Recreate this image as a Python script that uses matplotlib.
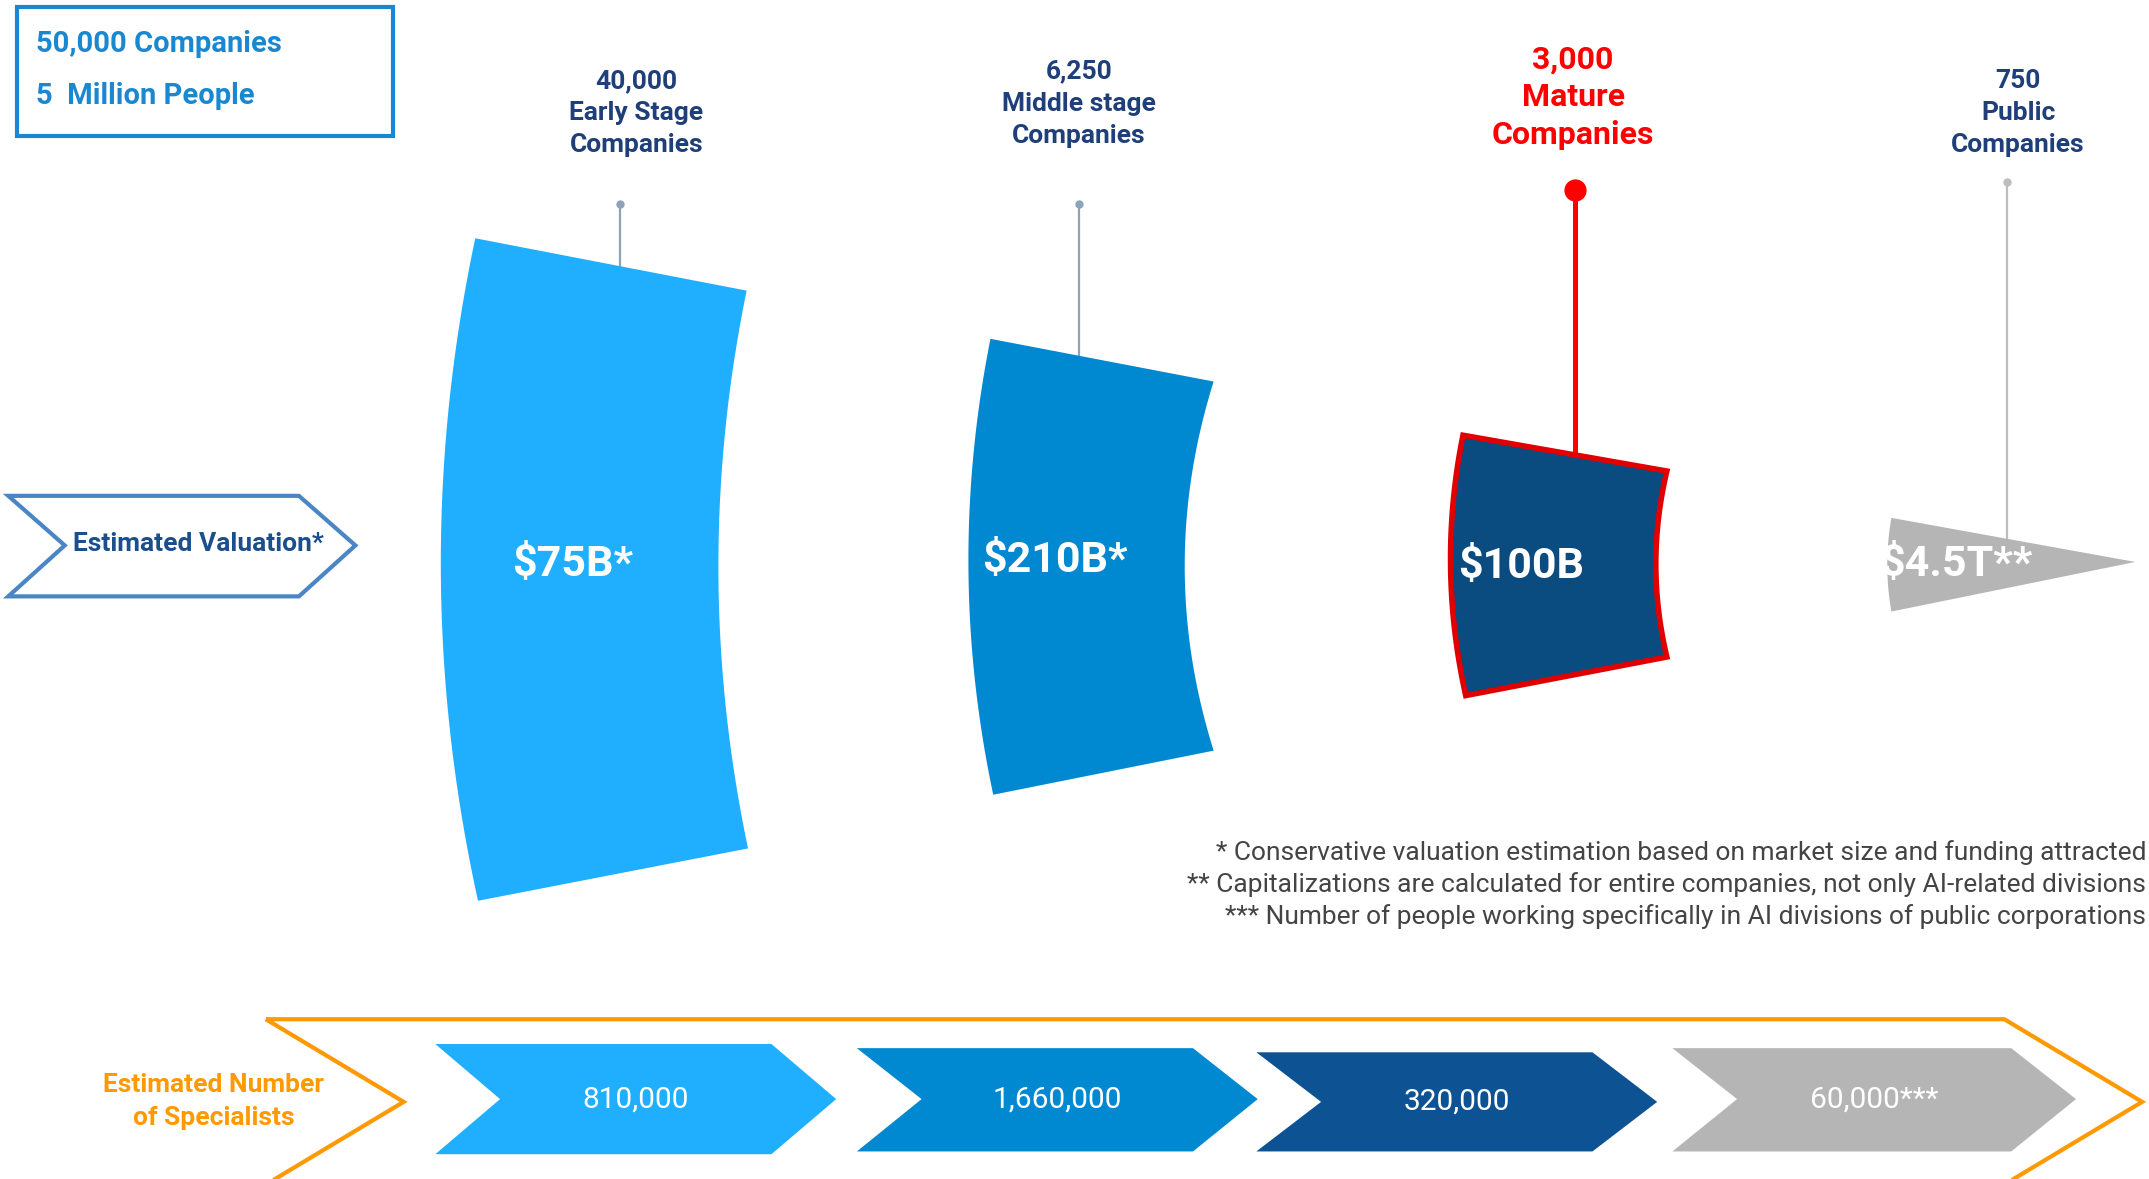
import numpy as np
import matplotlib
matplotlib.use("Agg")
import matplotlib.pyplot as plt
from matplotlib.patches import Polygon, Rectangle

plt.rcParams['font.family'] = ['Roboto', 'DejaVu Sans']

# ---------------- data ----------------
stage_counts = ["40,000", "6,250", "3,000", "750"]
stage_names = ["Early Stage\nCompanies", "Middle stage\nCompanies", "Mature\nCompanies", "Public\nCompanies"]
valuations = ["$75B*", "$210B*", "$100B", "$4.5T**"]
specialists = ["810,000", "1,660,000", "320,000", "60,000***"]
summary_lines = ["50,000 Companies", "5  Million People"]
footnotes = [
    "* Conservative valuation estimation based on market size and funding attracted",
    "** Capitalizations are calculated for entire companies, not only AI-related divisions",
    "*** Number of people working specifically in AI divisions of public corporations",
]

# ---------------- style / layout ----------------
shape_colors = ["#20AFFF", "#0088D1", "#0A4B80", "#B5B5B5"]
chev_colors = ["#20AFFF", "#0088D1", "#0D5393", "#B5B5B5"]
title_colors = ["#1F3F7A", "#1F3F7A", "#FF0000", "#1F3F7A"]
ORANGE = "#FF9900"
BOXBLUE = "#1A88D0"

W, H = 1560, 856
fig = plt.figure(figsize=(21.49, 11.79), dpi=100)
ax = fig.add_axes([0, 0, 1, 1])
ax.set_xlim(0, W)
ax.set_ylim(H, 0)
ax.axis('off')


def curved_shape(tl, tr, br, bl, bulge_l, bulge_r, n=60):
    t = np.linspace(0, 1, n)
    rx = tr[0] + (br[0] - tr[0]) * t - bulge_r * 4 * t * (1 - t)
    ry = tr[1] + (br[1] - tr[1]) * t
    lx = bl[0] + (tl[0] - bl[0]) * t - bulge_l * 4 * t * (1 - t)
    ly = bl[1] + (tl[1] - bl[1]) * t
    return np.column_stack([np.concatenate([rx, lx]), np.concatenate([ry, ly])])


geoms = [
    dict(tl=(345, 173), tr=(542, 211), br=(543, 616), bl=(347, 654), bl_=26, br_=21),
    dict(tl=(719, 246), tr=(881, 277), br=(881, 545), bl=(721, 577), bl_=17, br_=21),
    dict(tl=(1062, 316), tr=(1210, 342), br=(1210, 477), bl=(1064, 505), bl_=10, br_=8),
]
label_pos = [(416, 410), (766, 407), (1104, 411), (1420, 410)]
stems = [(450, 148, 193), (783, 148, 258), (1143, 138, 329), (1457, 132, 392)]
title_pos = [(462, 59), (783, 52), (1142, 43), (1465, 59)]

for i, g in enumerate(geoms):
    pts = curved_shape(g['tl'], g['tr'], g['br'], g['bl'], g['bl_'], g['br_'])
    if i == 2:
        ax.add_patch(Polygon(pts, closed=True, facecolor=shape_colors[i],
                             edgecolor="#E00000", lw=4, joinstyle='miter', zorder=3))
    else:
        ax.add_patch(Polygon(pts, closed=True, facecolor=shape_colors[i],
                             edgecolor='none', zorder=3))

# public: wedge
t = np.linspace(0, 1, 30)
lx = 1373 - 3 * 4 * t * (1 - t)
ly = 444 + (376 - 444) * t
tri = np.column_stack([np.concatenate([[1550], lx]), np.concatenate([[408], ly])])
ax.add_patch(Polygon(tri, closed=True, facecolor=shape_colors[3], edgecolor='none', zorder=3))

# stems
for i, (sx, y0, y1) in enumerate(stems):
    if i == 2:
        ax.plot([sx, sx], [y0, y1], color="#FF0000", lw=3.6, zorder=2, solid_capstyle='butt')
        ax.plot([sx], [y0], 'o', color="#FF0000", ms=15, zorder=4)
    else:
        c = "#8EA3B8" if i < 2 else "#BDBDBD"
        ax.plot([sx, sx], [y0, y1], color=c, lw=1.6, zorder=2)
        ax.plot([sx], [y0], 'o', color=c, ms=5, zorder=4)

# titles
for i, (x, y) in enumerate(title_pos):
    lines = [stage_counts[i]] + stage_names[i].split("\n")
    step = 27.5 if i == 2 else 23.3
    fs = 23 if i == 2 else 19
    for k, ln in enumerate(lines):
        ax.text(x, y + k * step, ln, ha='center', va='center', color=title_colors[i],
                fontsize=fs, fontweight='bold')

# valuation labels
for i, (x, y) in enumerate(label_pos):
    ax.text(x, y, valuations[i], ha='center', va='center', color='white',
            fontsize=31, fontweight='bold', zorder=5)

# summary box
ax.add_patch(Rectangle((12, 5), 273, 94, fill=False, edgecolor=BOXBLUE, lw=3, zorder=3))
ax.text(26, 32, summary_lines[0], ha='left', va='center', color=BOXBLUE, fontsize=21, fontweight='bold')
ax.text(26, 70, summary_lines[1], ha='left', va='center', color=BOXBLUE, fontsize=21, fontweight='bold')

# Estimated valuation chevron outline
ev = np.array([(6, 360), (217, 360), (258, 396), (217, 433), (6, 433), (47, 396)])
ax.add_patch(Polygon(ev, closed=True, fill=False, edgecolor="#4A86C5", lw=3, joinstyle='miter'))
ax.text(144, 395, "Estimated Valuation*", ha='center', va='center', color="#1A4E8C",
        fontsize=19, fontweight='bold')

# footnotes
for k, fn in enumerate(footnotes):
    ax.text(1558, 619 + k * 23.2, fn, ha='right', va='center', color="#444444", fontsize=19)

# bottom orange chevron
oc = np.array([(193, 740), (1455, 740), (1555, 800), (1455, 860), (193, 860), (293, 800)])
ax.add_patch(Polygon(oc, closed=True, fill=False, edgecolor=ORANGE, lw=3, joinstyle='miter'))
ax.text(155, 788, "Estimated Number", ha='center', va='center', color=ORANGE, fontsize=19, fontweight='bold')
ax.text(155, 812, "of Specialists", ha='center', va='center', color=ORANGE, fontsize=19, fontweight='bold')

chev_geo = [(316, 607, 758, 838, 798), (622, 913, 761, 836, 798),
            (912, 1203, 764, 836, 800), (1214, 1507, 761, 836, 798)]
for i, (x0, x1, y0, y1, ym) in enumerate(chev_geo):
    d = 47
    pts = np.array([(x0, y0), (x1 - d, y0), (x1, ym), (x1 - d, y1), (x0, y1), (x0 + d, ym)])
    ax.add_patch(Polygon(pts, closed=True, facecolor=chev_colors[i], edgecolor='none', zorder=3))
    ax.text((x0 + x1) / 2, ym, specialists[i], ha='center', va='center', color='white',
            fontsize=21.5, zorder=5)

fig.savefig("out.png", dpi=100, facecolor='white')
